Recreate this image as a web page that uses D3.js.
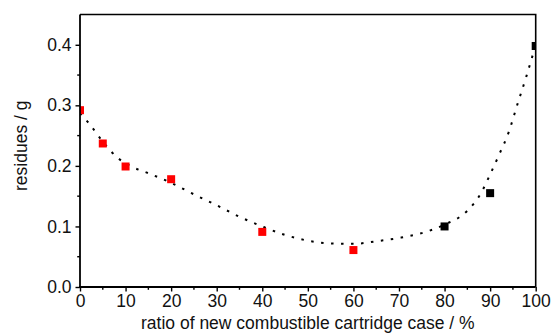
<!DOCTYPE html>
<html>
<head>
<meta charset="utf-8">
<script src="https://cdn.jsdelivr.net/npm/d3@7"></script>
<style>
  html, body { margin: 0; padding: 0; background: #fff; }
  svg { display: block; font-family: "Liberation Sans", Arial, sans-serif; }
</style>
</head>
<body>
<svg id="chart" width="551" height="335"></svg>
<script>
// ---- data ----
const redX = [0, 5, 10, 20, 40, 60];
const redY = [0.292, 0.237, 0.199, 0.178, 0.091, 0.061];
const blackX = [80, 90, 100];
const blackY = [0.100, 0.155, 0.398];
const fitX = [0, 2, 5, 8, 11, 15, 20, 25, 30, 35, 40, 45, 50, 55, 60, 65, 70, 75, 80, 85, 88, 90, 92, 94, 96, 98, 100];
const fitY = [0.287, 0.270, 0.240, 0.215, 0.200, 0.188, 0.172, 0.153, 0.135, 0.116, 0.100, 0.086, 0.0765, 0.072, 0.0713, 0.0755, 0.081, 0.089, 0.103, 0.126, 0.155, 0.186, 0.219, 0.254, 0.302, 0.349, 0.400];
const xTicks = [0, 10, 20, 30, 40, 50, 60, 70, 80, 90, 100];
const xMinor = [5, 15, 25, 35, 45, 55, 65, 75, 85, 95];
const yTicks = [0.0, 0.1, 0.2, 0.3, 0.4];
const yMinor = [0.05, 0.15, 0.25, 0.35];
const xTitle = "ratio of new combustible cartridge case / %";
const yTitle = "residues / g";

// ---- layout ----
const L = 80, T = 14.5, R = 535.7, B = 287;
const svg = d3.select("#chart");
const x = d3.scaleLinear().domain([0, 100]).range([L, R]);
const y = d3.scaleLinear().domain([0, 0.45]).range([B, T]);

svg.append("defs").append("clipPath").attr("id", "clip")
  .append("rect").attr("x", L).attr("y", T).attr("width", R - L).attr("height", B - T);

const plot = svg.append("g").attr("clip-path", "url(#clip)");

// fit curve
const fit = fitX.map((v, i) => [v, fitY[i]]);
plot.append("path")
  .datum(fit)
  .attr("fill", "none")
  .attr("stroke", "#000")
  .attr("stroke-width", 2)
  .attr("stroke-dasharray", "2.5,7.5")
  .attr("d", d3.line().x(d => x(d[0])).y(d => y(d[1])).curve(d3.curveMonotoneX));

const sq = 8;
plot.selectAll(".red").data(redX.map((v, i) => [v, redY[i]])).enter()
  .append("rect")
  .attr("x", d => x(d[0]) - sq / 2).attr("y", d => y(d[1]) - sq / 2)
  .attr("width", sq).attr("height", sq).attr("fill", "#ff0000");
plot.selectAll(".blk").data(blackX.map((v, i) => [v, blackY[i]])).enter()
  .append("rect")
  .attr("x", d => x(d[0]) - sq / 2).attr("y", d => y(d[1]) - sq / 2)
  .attr("width", sq).attr("height", sq).attr("fill", "#000");

// frame
svg.append("path")
  .attr("d", `M${L},${T}H${R}V${B}`)
  .attr("fill", "none").attr("stroke", "#000").attr("stroke-width", 1.6);

// axes
const fs = 17.5;
const xAxis = svg.append("g").attr("transform", `translate(0,${B})`)
  .call(d3.axisBottom(x).tickValues(xTicks).tickSize(4.5).tickSizeOuter(0).tickPadding(3).tickFormat(d3.format("d")));
xAxis.append("g").selectAll("line").data(xMinor).enter().append("line")
  .attr("x1", d => x(d)).attr("x2", d => x(d)).attr("y1", 0).attr("y2", 2.8)
  .attr("stroke", "#000").attr("stroke-width", 1.4);

const yAxis = svg.append("g").attr("transform", `translate(${L},0)`)
  .call(d3.axisLeft(y).tickValues(yTicks).tickSize(4.5).tickSizeOuter(0).tickPadding(4).tickFormat(d3.format(".1f")));
yAxis.append("g").selectAll("line").data(yMinor).enter().append("line")
  .attr("y1", d => y(d)).attr("y2", d => y(d)).attr("x1", 0).attr("x2", -2.8)
  .attr("stroke", "#000").attr("stroke-width", 1.4);

[xAxis, yAxis].forEach(a => {
  a.select(".domain").attr("stroke-width", 1.8);
  a.selectAll(".tick line").attr("stroke-width", 1.4);
  a.selectAll("text").attr("font-size", fs).attr("fill", "#111")
    .attr("font-family", "'Liberation Sans', Arial, sans-serif");
});
// extend domains to corner
xAxis.select(".domain").attr("d", `M${L - 1},0H${R}`);
yAxis.select(".domain").attr("d", `M0,${B + 1}V${T}`);

// titles
svg.append("text")
  .attr("x", (L + R) / 2).attr("y", 328.5)
  .attr("text-anchor", "middle").attr("font-size", fs).attr("fill", "#111")
  .text(xTitle);
svg.append("text")
  .attr("transform", `translate(26.6,${(T + B) / 2 - 5}) rotate(-90)`)
  .attr("text-anchor", "middle").attr("font-size", fs).attr("fill", "#111")
  .text(yTitle);
</script>
</body>
</html>
